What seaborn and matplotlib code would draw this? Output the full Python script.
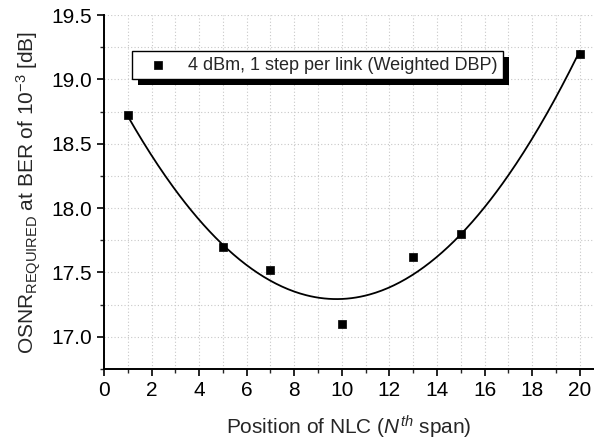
import numpy as np
import pandas as pd
import matplotlib
matplotlib.use("Agg")
import matplotlib.pyplot as plt
import matplotlib.patheffects as pe
from matplotlib.ticker import MultipleLocator
import seaborn as sns

# measured points
nlc_position = [1, 5, 7, 10, 13, 15, 20]
osnr_required = [18.72, 17.70, 17.52, 17.10, 17.62, 17.80, 19.20]
series_label = "4 dBm, 1 step per link (Weighted DBP)"

pts = pd.DataFrame({"x": nlc_position, "y": osnr_required})

# 2nd order polynomial fit through the measurements
coef = np.polyfit(nlc_position, osnr_required, 2)
fx = np.linspace(min(nlc_position), max(nlc_position), 300)
curve = pd.DataFrame({"x": fx, "y": np.polyval(coef, fx)})

sns.set_style("ticks")
plt.rcParams["font.family"] = ["Liberation Sans", "DejaVu Sans"]
plt.rcParams["mathtext.fontset"] = "custom"
plt.rcParams["mathtext.rm"] = "Liberation Sans"
plt.rcParams["mathtext.it"] = "Liberation Sans:italic"

fig = plt.figure(figsize=(5.94, 4.45), dpi=100)
ax = fig.add_axes([0.175, 0.171, 0.825, 0.795])

sns.lineplot(data=curve, x="x", y="y", color="black", linewidth=1.3, ax=ax, zorder=3)
sns.scatterplot(data=pts, x="x", y="y", marker="s", s=36, color="black", edgecolor="black",
                linewidth=0.5, ax=ax, zorder=4, label=series_label)

ax.set_xlim(0, 20.6)
ax.set_ylim(16.75, 19.5)
ax.xaxis.set_major_locator(MultipleLocator(2))
ax.xaxis.set_minor_locator(MultipleLocator(1))
ax.yaxis.set_minor_locator(MultipleLocator(0.25))
ax.set_yticks(np.arange(17.0, 19.51, 0.5))
ax.grid(True, which="both", linestyle=(0, (1, 2)), color="#c8c8c8", linewidth=0.8)
ax.set_axisbelow(True)

for s in ["top", "right"]:
    ax.spines[s].set_visible(False)
for s in ["left", "bottom"]:
    ax.spines[s].set_linewidth(1.4)
    ax.spines[s].set_color("black")
ax.tick_params(which="major", direction="out", length=5, width=1.2, labelsize=15, colors="black")
ax.tick_params(which="minor", direction="out", length=3, width=1.0)

ax.set_xlabel(r"Position of NLC ($N^{th}$ span)", fontsize=15, labelpad=10)
ax.set_ylabel(r"OSNR$_{\mathrm{REQUIRED}}$ at BER of 10$^{-3}$ [dB]", fontsize=15, labelpad=6)

leg = ax.legend(loc="upper left", bbox_to_anchor=(0.057, 0.898), borderaxespad=0,
                fancybox=False, edgecolor="black", framealpha=1, fontsize=13,
                handletextpad=0.5, borderpad=0.3, handlelength=2.3)
leg.get_frame().set_linewidth(1.0)
leg.get_frame().set_path_effects([
    pe.SimplePatchShadow(offset=(4.5, -4.5), shadow_rgbFace="black", alpha=1),
    pe.Normal(),
])

fig.savefig("out.png", dpi=100)
